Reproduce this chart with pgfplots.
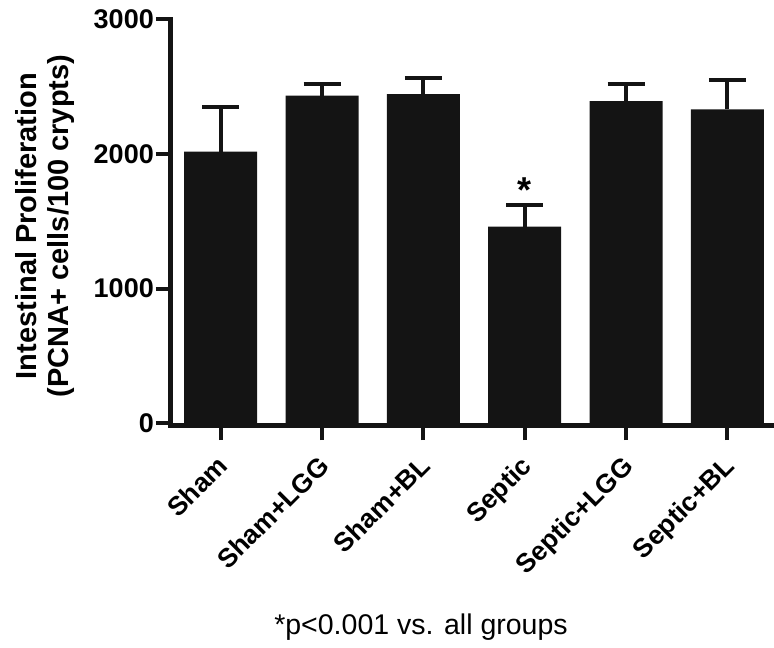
\documentclass[border=0pt]{standalone}
\usepackage{pgfplots}
\pgfplotsset{compat=1.18}
\usepackage{fontspec}
\setmainfont{Liberation Sans}
\definecolor{barc}{HTML}{141414}
\begin{document}
\begin{tikzpicture}[x=1pt,y=1pt]
\path[use as bounding box] (0,0) rectangle (774,648);
\begin{axis}[
  at={(170pt,222pt)}, anchor=south west,
  scale only axis, width=603pt, height=406.7pt,
  xmin=-0.5, xmax=5.45, ymin=-20, ymax=3000,
  axis x line*=bottom, axis y line*=left,
  axis line style={line width=5pt, barc, line cap=rect},
  clip=false,
  /pgf/number format/assume math mode=true,
  /pgf/number format/1000 sep={},
  ytick={0,1000,2000,3000},
  xtick={0,1,2,3,4,5},
  xticklabels={Sham,Sham+LGG,Sham+BL,Septic,Septic+LGG,Septic+BL},
  tick align=outside, major tick length=14pt,
  tick style={line width=4pt, barc},
  yticklabel style={font=\fontsize{27}{27}\selectfont\bfseries, inner sep=2pt},
  xticklabel style={xshift=-5pt, yshift=-14pt, rotate=45, anchor=north east, inner sep=0pt,
    font=\fontsize{26.5}{26.5}\selectfont\bfseries},
]
\addplot[ybar, bar width=73pt, fill=barc, draw=none,
  error bars/.cd, y dir=plus, y explicit,
  error bar style={line width=4pt, barc},
  error mark options={line width=4pt, barc, mark size=18.5pt, rotate=90}]
  coordinates {
  (0,2017) +- (0,334)
  (1,2433) +- (0,84)
  (2,2445) +- (0,121)
  (3,1460) +- (0,161)
  (4,2393) +- (0,124)
  (5,2332) +- (0,215)
};
\node[anchor=base, font=\fontsize{36}{36}\selectfont\bfseries] at (axis cs:3,1640) {*};
\end{axis}
\node[rotate=90, align=center, font=\fontsize{29}{31.5}\selectfont\bfseries] at (45,422)
  {Intestinal Proliferation\\(PCNA+ cells/100 crypts)};
\node[anchor=base, font=\fontsize{28.5}{28.5}\selectfont] at (421,13) {*p<0.001 vs. all groups};
\end{tikzpicture}
\end{document}
